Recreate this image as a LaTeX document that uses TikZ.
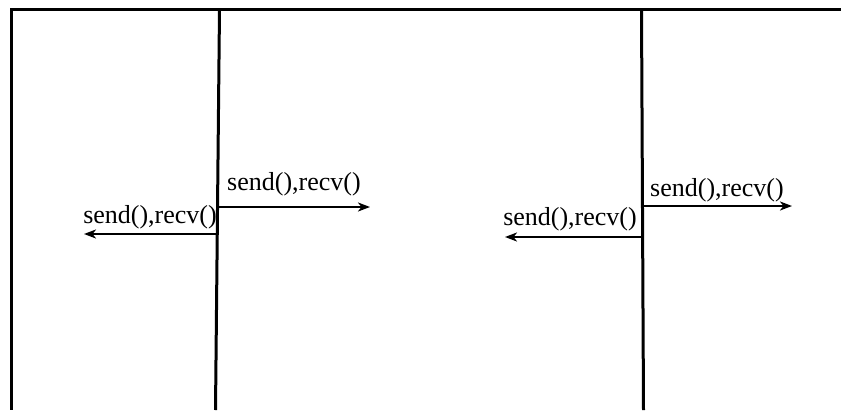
\documentclass[tikz,border=0pt]{standalone}
\usepackage{fontspec}
\setmainfont{Liberation Serif}
\usetikzlibrary{arrows.meta}
\begin{document}
\begin{tikzpicture}[x=1pt,y=-1pt,
  wire/.style={line width=3pt},
  msg/.style={line width=2.8pt,-{Stealth[length=12pt,width=9pt,inset=3.5pt]}},
  lbl/.style={font=\fontsize{26}{29}\selectfont,inner sep=0pt}]
\useasboundingbox (0,0) rectangle (841,410);
% frame lines
\coordinate (tl) at (11,9);
\coordinate (tr) at (841,9);
\coordinate (bl) at (11,410);
\draw[wire] (tr) -- (tl) -- (bl);
% vertical lines
\coordinate (a1) at (219.5,9);
\coordinate (a2) at (215.5,410);
\coordinate (b1) at (641.5,9);
\coordinate (b2) at (643.5,410);
\draw[wire] (a1) -- (a2);
\draw[wire] (b1) -- (b2);
% arrows left pair
\coordinate (p1) at (218,207);
\coordinate (q1) at (370,207);
\coordinate (p2) at (217,234);
\coordinate (q2) at (84,234);
\draw[msg] (p1) -- (q1);
\draw[msg] (p2) -- (q2);
\node[lbl,anchor=base west] (l1) at (227,190) {send(),recv()};
\node[lbl,anchor=base east] (l2) at (217,223) {send(),recv()};
% arrows right pair
\coordinate (p3) at (642,206);
\coordinate (q3) at (792,206);
\coordinate (p4) at (643,237);
\coordinate (q4) at (505,237);
\draw[msg] (p3) -- (q3);
\draw[msg] (p4) -- (q4);
\node[lbl,anchor=base west] (l3) at (650,196) {send(),recv()};
\node[lbl,anchor=base east] (l4) at (637,225) {send(),recv()};
\end{tikzpicture}
\end{document}
